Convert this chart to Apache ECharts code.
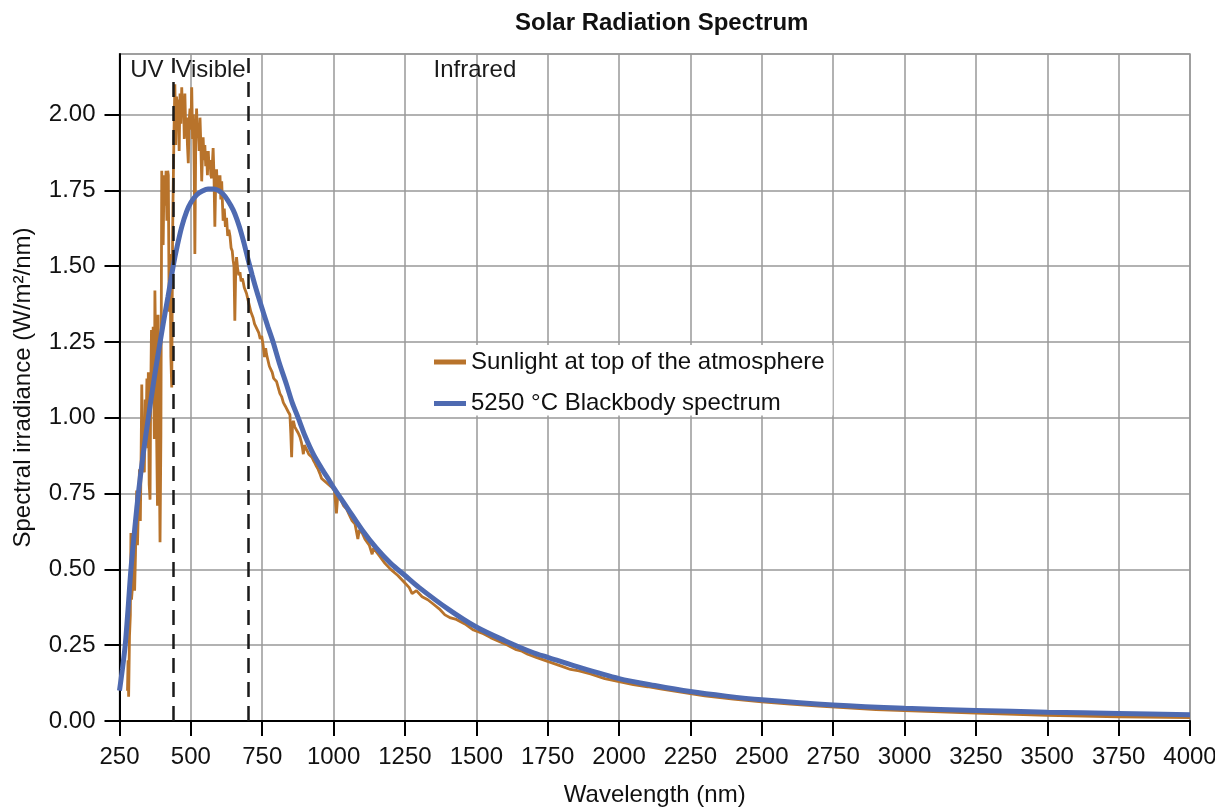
<!DOCTYPE html>
<html>
<head>
<meta charset="utf-8">
<script src="https://cdn.jsdelivr.net/npm/echarts@6/dist/echarts.min.js"></script>
<style>
html,body{margin:0;padding:0;background:#fff;}
#chart{width:1215px;height:807px;}
</style>
</head>
<body>
<div id="chart"></div>
<script>
// ---- data ----
const titleText = 'Solar Radiation Spectrum';
const xName = 'Wavelength (nm)';
const yName = 'Spectral irradiance (W/m²/nm)';
const seriesNames = ['Sunlight at top of the atmosphere', '5250 °C Blackbody spectrum'];

// Sunlight spectrum [wavelength nm, irradiance]
const sunlight = [
[278,0.10],[280,0.20],[282,0.08],[285,0.28],[288,0.35],[290,0.62],[292,0.40],[296,0.45],[300,0.58],[303,0.43],
[306,0.55],[310,0.76],[313,0.58],[316,0.70],[320,0.83],[323,0.66],[326,0.90],[328,1.11],[331,0.88],[334,1.00],
[337,0.82],[340,1.06],[343,0.95],[346,1.13],[349,0.90],[351,1.15],[354,0.78],[357,0.73],[359,1.05],[362,1.29],
[365,1.18],[368,1.30],[370,1.10],[372,0.93],[374,1.42],[377,1.20],[380,0.95],[383,0.71],[385,1.34],[388,1.05],
[390,0.80],[392,0.59],[395,0.94],[398,1.815],[400,1.60],[403,1.57],[406,1.80],[410,1.70],[413,1.815],[416,1.65],
[419,1.815],[421,1.80],[424,1.35],[427,1.54],[430,1.20],[433,1.10],[436,1.60],[438,1.75],[441,1.95],[444,2.10],
[447,1.90],[450,2.06],[453,1.95],[456,2.05],[459,1.88],[462,2.07],[465,1.97],[468,2.09],[471,2.00],[474,2.06],
[477,1.92],[479,2.07],[482,1.95],[485,1.99],[488,1.90],[491,1.84],[494,1.98],[497,2.02],[500,1.95],[503,2.09],
[506,1.92],[509,2.00],[512,1.80],[514,1.54],[517,1.90],[520,2.02],[523,1.93],[526,1.97],[529,1.88],[532,1.99],
[535,1.90],[538,1.78],[541,1.88],[543,1.925],[546,1.85],[549,1.90],[552,1.83],[555,1.88],[558,1.80],[561,1.88],
[564,1.82],[567,1.85],[570,1.80],[573,1.79],[576,1.85],[578,1.89],[581,1.80],[584,1.63],[587,1.78],[590,1.82],
[593,1.75],[596,1.80],[599,1.74],[602,1.80],[605,1.72],[608,1.78],[611,1.70],[613,1.65],[617,1.69],[621,1.63],
[625,1.66],[629,1.60],[633,1.62],[637,1.60],[641,1.56],[645,1.55],[648,1.52],[651,1.50],[654,1.32],[657,1.48],
[660,1.53],[664,1.49],[668,1.47],[672,1.48],[676,1.45],[680,1.46],[683,1.45],[687,1.43],[691,1.42],[695,1.41],
[700,1.39],[705,1.37],[710,1.35],[714,1.34],[718,1.33],[723,1.31],[728,1.30],[733,1.29],[738,1.28],[743,1.26],
[748,1.27],[753,1.24],[758,1.20],[762,1.23],[765,1.21],[770,1.19],[775,1.17],[780,1.16],[785,1.15],[790,1.13],
[795,1.13],[800,1.12],[806,1.10],[812,1.08],[818,1.07],[824,1.05],[830,1.04],[835,1.035],[841,1.02],[847,1.01],
[850,0.95],[853,0.87],[856,0.98],[859,0.99],[864,0.97],[870,0.96],[876,0.95],[882,0.937],[887,0.92],[891,0.90],
[894,0.88],[898,0.91],[903,0.90],[908,0.89],[913,0.88],[918,0.875],[924,0.87],[929,0.86],[935,0.85],[940,0.84],
[946,0.83],[952,0.816],[958,0.80],[964,0.80],[970,0.79],[976,0.79],[982,0.78],[987,0.785],[995,0.77],[1003,0.76],
[1010,0.685],[1015,0.75],[1025,0.73],[1035,0.71],[1045,0.70],[1055,0.68],[1065,0.66],[1075,0.65],[1085,0.60],
[1090,0.63],[1100,0.62],[1110,0.60],[1125,0.58],[1135,0.55],[1140,0.57],[1160,0.545],[1180,0.52],[1200,0.50],
[1225,0.48],[1250,0.455],[1265,0.44],[1275,0.42],[1290,0.43],[1310,0.41],[1330,0.40],[1350,0.385],[1370,0.37],
[1390,0.35],[1410,0.34],[1430,0.335],[1460,0.32],[1490,0.30],[1520,0.29],[1550,0.275],[1580,0.262],[1610,0.25],
[1640,0.235],[1660,0.23],[1680,0.22],[1710,0.21],[1740,0.20],[1770,0.19],[1800,0.18],[1830,0.17],[1860,0.165],
[1900,0.155],[1950,0.14],[2000,0.13],[2050,0.12],[2100,0.113],[2150,0.105],[2200,0.098],[2250,0.09],[2300,0.083],
[2400,0.072],[2500,0.063],[2600,0.056],[2700,0.049],[2800,0.043],[2900,0.038],[3000,0.034],[3250,0.026],
[3500,0.019],[3750,0.014],[4000,0.011]
];

// Blackbody curve [wavelength nm, irradiance]
const blackbody = [
[250,0.10],[260,0.17],[270,0.25],[280,0.37],[290,0.50],[303,0.63],[316,0.75],[333,0.88],[351,1.00],[365,1.09],
[380,1.18],[403,1.31],[420,1.40],[438,1.50],[453,1.57],[468,1.63],[485,1.68],[500,1.71],[520,1.735],[540,1.748],
[560,1.755],[580,1.755],[600,1.748],[620,1.73],[640,1.70],[654,1.673],[670,1.63],[685,1.58],[701,1.52],[715,1.47],
[730,1.42],[753,1.35],[770,1.30],[788,1.25],[810,1.18],[835,1.11],[855,1.05],[876,1.00],[900,0.94],[929,0.88],
[960,0.83],[987,0.79],[1000,0.77],[1050,0.70],[1100,0.63],[1150,0.57],[1200,0.52],[1250,0.48],[1300,0.44],
[1400,0.37],[1500,0.31],[1600,0.265],[1700,0.225],[1750,0.21],[1850,0.18],[2000,0.14],[2125,0.117],[2250,0.097],
[2375,0.082],[2500,0.07],[2750,0.053],[3000,0.042],[3250,0.035],[3500,0.029],[3750,0.025],[4000,0.021]
];

// Region boundaries (nm) and labels
const boundaries = [440, 700];
const regionLabels = ['UV', 'Visible', 'Infrared'];
const regionLabelX = [346, 569, 1495];
const regionLabelY = 2.145;

// Axis settings
const xMin = 250, xMax = 4000, xStep = 250;
const yMin = 0, yMax = 2.2, yStep = 0.25;

// ---- chart ----
const FONT = '"Liberation Sans", Arial, sans-serif';
const FS = 24;
const chart = echarts.init(document.getElementById('chart'), null, {renderer: 'canvas'});
chart.setOption({
  animation: false,
  backgroundColor: '#fff',
  textStyle: {fontFamily: FONT},
  title: {
    text: titleText, left: 510, top: 6,
    textStyle: {fontFamily: FONT, fontSize: FS, fontWeight: 'bold', color: '#111'}
  },
  grid: {
    left: 119.5, right: 25, top: 54, bottom: 86,
    outerBoundsMode: 'none', containLabel: false,
    show: true, borderColor: '#999', borderWidth: 1.5, backgroundColor: 'transparent'
  },
  legend: {
    data: seriesNames,
    orient: 'vertical',
    left: 426, top: 345,
    padding: [5, 8, 0, 8],
    backgroundColor: '#fff',
    icon: 'rect', itemWidth: 32, itemHeight: 5, itemGap: 17.5,
    textStyle: {fontFamily: FONT, fontSize: FS, color: '#111'},
    selectedMode: false
  },
  xAxis: {
    type: 'value', min: xMin, max: xMax, interval: xStep,
    name: xName, nameLocation: 'middle', nameGap: 62,
    nameTextStyle: {fontFamily: FONT, fontSize: FS, color: '#111'},
    axisLine: {show: true, lineStyle: {color: '#000', width: 2}},
    axisTick: {show: true, inside: false, length: 15, lineStyle: {color: '#000', width: 2}},
    axisLabel: {fontFamily: FONT, fontSize: FS, color: '#111', margin: 24,
      formatter: v => String(v)},
    splitLine: {show: true, lineStyle: {color: '#999', width: 1.5}}
  },
  yAxis: {
    type: 'value', min: yMin, max: yMax, interval: yStep,
    name: yName, nameLocation: 'middle', nameGap: 84,
    nameTextStyle: {fontFamily: FONT, fontSize: FS, color: '#111'},
    axisLine: {show: true, lineStyle: {color: '#000', width: 2}},
    axisTick: {show: true, inside: false, length: 15, lineStyle: {color: '#000', width: 2}},
    axisLabel: {fontFamily: FONT, fontSize: FS, color: '#111', margin: 24, showMaxLabel: false,
      formatter: v => v.toFixed(2)},
    splitLine: {show: true, lineStyle: {color: '#999', width: 1.5}}
  },
  series: [
    {
      name: seriesNames[0], type: 'line', data: sunlight, showSymbol: false, symbol: 'none',
      lineStyle: {color: '#B8732B', width: 2.8}, itemStyle: {color: '#B8732B'}, z: 3
    },
    {
      name: seriesNames[1], type: 'line', data: blackbody, showSymbol: false, symbol: 'none', smooth: 0.3,
      lineStyle: {color: '#4E6AB1', width: 5}, itemStyle: {color: '#4E6AB1'}, z: 4
    },
    {
      name: 'boundaries', type: 'line', data: [], silent: true, z: 5,
      markLine: {
        silent: true, symbol: ['none', 'none'], label: {show: false},
        lineStyle: {color: '#1a1a1a', width: 2.5, type: [15, 9]},
        data: boundaries.map(b => ({xAxis: b}))
      }
    },
    {
      name: 'regions', type: 'scatter', symbolSize: 0, silent: true, z: 6,
      itemStyle: {color: '#fff', opacity: 0},
      data: regionLabels.map((t, i) => ({value: [regionLabelX[i], regionLabelY], name: t})),
      label: {show: true, position: 'inside', formatter: p => p.name,
        fontFamily: FONT, fontSize: FS, color: '#1a1a1a', textBorderWidth: 0, opacity: 1}
    }
  ]
});
</script>
</body>
</html>
